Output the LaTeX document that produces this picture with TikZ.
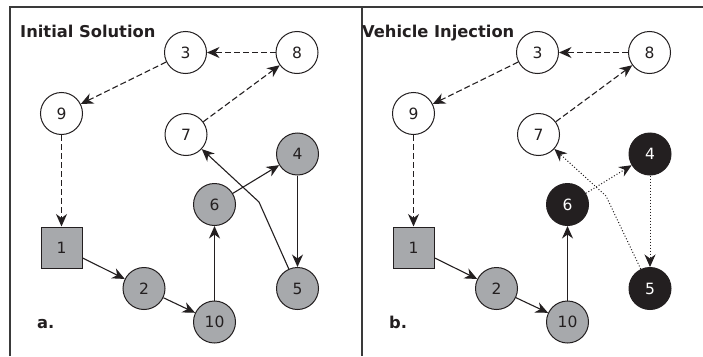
\documentclass[tikz,border=0pt]{standalone}
\usepackage{fontspec}
\setmainfont{DejaVu Sans}
\usetikzlibrary{arrows.meta}
\definecolor{ink}{HTML}{231F20}
\definecolor{gfill}{HTML}{A7A9AC}
\definecolor{frame}{HTML}{3A3A3A}
\begin{document}
\begin{tikzpicture}[x=1pt,y=-1pt,
  >={Stealth[length=12.5pt,width=11pt,inset=4pt]},
  nd/.style={circle,draw=ink,line width=1pt,minimum size=42pt,inner sep=0pt,
    font=\fontsize{15.5}{15.5}\selectfont,text=ink},
  wnode/.style={nd,fill=white},
  gnode/.style={nd,fill=gfill},
  bnode/.style={nd,fill=ink,text=white},
  sqnode/.style={rectangle,draw=ink,line width=1pt,minimum size=41pt,inner sep=0pt,
    fill=gfill,font=\fontsize{15.5}{15.5}\selectfont,text=ink},
  edge/.style={draw=ink,line width=1.1pt},
  dashedge/.style={edge,dash pattern=on 6pt off 3pt},
  dotedge/.style={edge,line width=1pt,dash pattern=on 1pt off 2pt},
  title/.style={anchor=base west,inner sep=0pt,font=\fontsize{16.3}{16.3}\selectfont\bfseries,text=ink},
  framel/.style={draw=frame,line width=1.5pt}
]
\useasboundingbox (0,0) rectangle (703,356);
% frame
\coordinate (tl) at (10,7);
\coordinate (tr) at (703,7);
\coordinate (bl) at (10,356);
\coordinate (dt) at (362,7);
\coordinate (db) at (362,356);
\draw[framel] (bl) -- (tl) -- (tr);
\draw[framel,line width=2.4pt] (dt) -- (db);

% titles
\node[title] (ta) at (20,37) {Initial Solution};
\node[title] (tb) at (362,37) {Vehicle Injection};
\node[title] (la) at (37,328) {a.};
\node[title] (lb) at (389,328) {b.};

% ---------- panel a ----------
\node[wnode] (a3) at (185.5,52.5) {3};
\node[wnode] (a8) at (297,52.5) {8};
\node[wnode] (a9) at (61.5,113.5) {9};
\node[wnode] (a7) at (186,134.5) {7};
\node[gnode] (a4) at (297.5,154) {4};
\node[gnode] (a6) at (214.5,204.5) {6};
\node[sqnode] (a1) at (61.5,247.5) {1};
\node[gnode] (a2) at (144,288.5) {2};
\node[gnode] (a10) at (214.5,322) {10};
\node[gnode] (a5) at (297.5,288.5) {5};
\coordinate (abend) at (259,202);

\draw[dashedge,->] (a8) -- (a3);
\draw[dashedge,->] (a3) -- (a9);
\draw[dashedge,->] (a9) -- (a1);
\draw[dashedge,->] (a7) -- (a8);
\draw[edge,->] (a1) -- (a2);
\draw[edge,->] (a2) -- (a10);
\draw[edge,->] (a10) -- (a6);
\draw[edge,->] (a6) -- (a4);
\draw[edge,->] (a4) -- (a5);
\draw[edge,->] (a5) -- (abend) -- (a7);

% ---------- panel b ----------
\node[wnode] (b3) at (537.5,52.5) {3};
\node[wnode] (b8) at (649.5,52.5) {8};
\node[wnode] (b9) at (413.5,113.5) {9};
\node[wnode] (b7) at (538.5,134.5) {7};
\node[bnode] (b4) at (650,154) {4};
\node[bnode] (b6) at (567.5,204.5) {6};
\node[sqnode] (b1) at (413.5,247.5) {1};
\node[gnode] (b2) at (496.5,288.5) {2};
\node[gnode] (b10) at (567.5,322) {10};
\node[bnode] (b5) at (650,288.5) {5};
\coordinate (bbend) at (606,196);

\draw[dashedge,->] (b8) -- (b3);
\draw[dashedge,->] (b3) -- (b9);
\draw[dashedge,->] (b9) -- (b1);
\draw[dashedge,->] (b7) -- (b8);
\draw[edge,->] (b1) -- (b2);
\draw[edge,->] (b2) -- (b10);
\draw[edge,->] (b10) -- (b6);
\draw[dotedge,->] (b6) -- (b4);
\draw[dotedge,->] (b4) -- (b5);
\draw[dotedge,->] (b5) -- (bbend) -- (b7);
\end{tikzpicture}
\end{document}
